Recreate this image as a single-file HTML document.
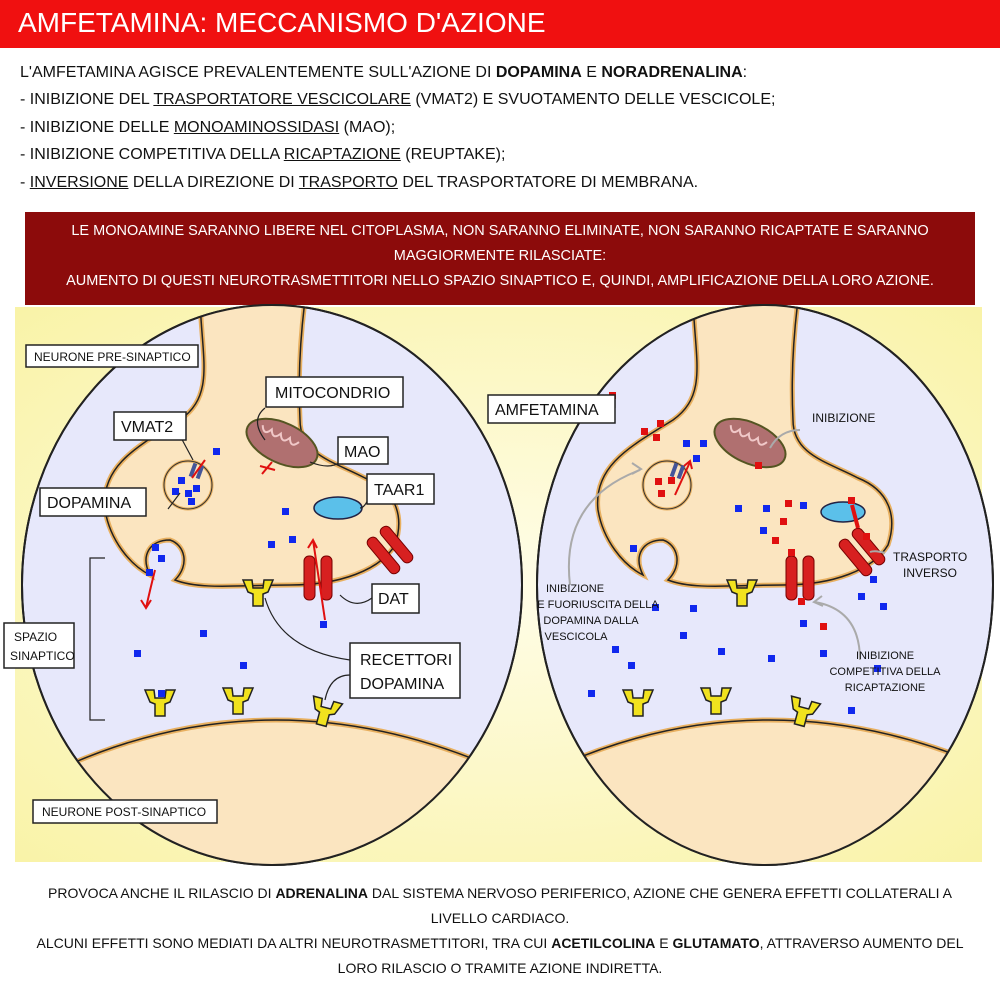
<!DOCTYPE html>
<html><head><meta charset="utf-8"><style>
body{margin:0;width:1000px;height:1000px;background:#fff;font-family:"Liberation Sans",sans-serif;position:relative;overflow:hidden}
.hdr{position:absolute;left:0;top:0;width:1000px;height:48px;background:#f01010;color:#fff;font-size:28px;line-height:46px;padding-left:18px;box-sizing:border-box}
.t{position:absolute;left:20px;font-size:16px;color:#111;white-space:nowrap}
.u{text-decoration:underline}
.box{position:absolute;left:25px;top:212px;width:950px;height:93px;background:#8c0b0b;color:#fff;text-align:center;font-size:14.5px;line-height:25px;padding-top:7px;box-sizing:border-box;white-space:nowrap}
.bt{position:absolute;left:0;width:1000px;text-align:center;font-size:14px;color:#111;line-height:25px;white-space:nowrap}
</style></head><body>
<div class="hdr">AMFETAMINA: MECCANISMO D'AZIONE</div>
<div class="t" style="top:64px">L'AMFETAMINA AGISCE PREVALENTEMENTE SULL'AZIONE DI <b>DOPAMINA</b> E <b>NORADRENALINA</b>:</div>
<div class="t" style="top:91px">- INIBIZIONE DEL <span class="u">TRASPORTATORE VESCICOLARE</span> (VMAT2) E SVUOTAMENTO DELLE VESCICOLE;</div>
<div class="t" style="top:119px">- INIBIZIONE DELLE <span class="u">MONOAMINOSSIDASI</span> (MAO);</div>
<div class="t" style="top:146px">- INIBIZIONE COMPETITIVA DELLA <span class="u">RICAPTAZIONE</span> (REUPTAKE);</div>
<div class="t" style="top:174px">- <span class="u">INVERSIONE</span> DELLA DIREZIONE DI <span class="u">TRASPORTO</span> DEL TRASPORTATORE DI MEMBRANA.</div>
<div class="box">LE MONOAMINE SARANNO LIBERE NEL CITOPLASMA, NON SARANNO ELIMINATE, NON SARANNO RICAPTATE E SARANNO<br>MAGGIORMENTE RILASCIATE:<br>AUMENTO DI QUESTI NEUROTRASMETTITORI NELLO SPAZIO SINAPTICO E, QUINDI, AMPLIFICAZIONE DELLA LORO AZIONE.</div>
<svg style="position:absolute;left:0;top:0" width="1000" height="1000" font-family="Liberation Sans, sans-serif">
<defs>
<radialGradient id="yg" cx="0.5" cy="0.5" r="0.7"><stop offset="0" stop-color="#fffde8"/><stop offset="1" stop-color="#f9f3a8"/></radialGradient>
<clipPath id="cl"><ellipse cx="272" cy="585" rx="250" ry="280"/></clipPath>
<clipPath id="cr"><ellipse cx="765" cy="585" rx="228" ry="280"/></clipPath>
<g id="pre">
<path d="M200,300 C202,360 215,395 180,420 C140,445 100,465 105,510 C110,540 130,565 150,575 C140,555 150,540 170,540 C185,545 190,565 175,580 C200,590 240,585 290,585 C340,585 380,570 395,545 C405,515 395,490 365,478 C335,462 300,455 300,420 C298,380 300,340 305,300 Z" fill="#fbe5c0" stroke="#e8b060" stroke-width="5"/>
<path d="M200,300 C202,360 215,395 180,420 C140,445 100,465 105,510 C110,540 130,565 150,575 C140,555 150,540 170,540 C185,545 190,565 175,580 C200,590 240,585 290,585 C340,585 380,570 395,545 C405,515 395,490 365,478 C335,462 300,455 300,420 C298,380 300,340 305,300" fill="none" stroke="#222" stroke-width="1.5"/>
<path d="M0,800 Q272,640 560,800 L560,900 L0,900Z" fill="#fbe5c0" stroke="#e8b060" stroke-width="5"/>
<path d="M0,800 Q272,640 560,800" fill="none" stroke="#222" stroke-width="1.5"/>
</g>
<g id="rec"><path d="M-15,0 L-6,0 L-5,8 L5,8 L6,0 L15,0 L10,12 L5,14 L5,26 L-5,26 L-5,14 L-10,12Z" fill="#f1e21e" stroke="#222" stroke-width="1.5"/></g>
<g id="dat"><rect x="-14" y="-22" width="11" height="44" rx="5" fill="#d72020" stroke="#700" stroke-width="1"/><rect x="3" y="-22" width="11" height="44" rx="5" fill="#d72020" stroke="#700" stroke-width="1"/></g>
<g id="mito"><ellipse cx="0" cy="0" rx="38" ry="20" transform="rotate(25)" fill="#b07070" stroke="#552" stroke-width="2"/><path d="M-25,-8 q5,10 10,0 q5,10 10,0 q5,10 10,0 q5,10 10,0" transform="rotate(25)" stroke="#f0c8c8" stroke-width="2" fill="none"/></g>
</defs>
<rect x="15" y="307" width="967" height="555" fill="url(#yg)"/>
<ellipse cx="272" cy="585" rx="250" ry="280" fill="#e7e8fb" stroke="#222" stroke-width="2"/>
<g clip-path="url(#cl)"><use href="#pre"/></g>
<ellipse cx="272" cy="585" rx="250" ry="280" fill="none" stroke="#222" stroke-width="2"/>
<circle cx="188" cy="485" r="24" fill="#fbe5c0" stroke="#e8b060" stroke-width="3"/><circle cx="188" cy="485" r="24" fill="none" stroke="#333" stroke-width="1"/>
<rect x="191" y="463" width="4" height="14" fill="#445599" transform="rotate(20 193 470)"/><rect x="198" y="465" width="4" height="14" fill="#445599" transform="rotate(20 200 472)"/>
<use href="#mito" x="282" y="443"/>
<ellipse cx="338" cy="508" rx="24" ry="11" fill="#5bc0ea" stroke="#224" stroke-width="1.5"/>
<use href="#dat" x="318" y="578"/><use href="#dat" x="390" y="550" transform="rotate(-40 390 550)"/>
<use href="#rec" x="258" y="580"/><use href="#rec" x="160" y="690"/><use href="#rec" x="238" y="688"/><use href="#rec" x="328" y="700" transform="rotate(15 328 700)"/>
<g fill="#1028ee"><rect x="213" y="448" width="7" height="7"/><rect x="178" y="477" width="7" height="7"/><rect x="172" y="488" width="7" height="7"/><rect x="185" y="490" width="7" height="7"/><rect x="193" y="485" width="7" height="7"/><rect x="188" y="498" width="7" height="7"/><rect x="152" y="544" width="7" height="7"/><rect x="158" y="555" width="7" height="7"/><rect x="146" y="569" width="7" height="7"/><rect x="282" y="508" width="7" height="7"/><rect x="268" y="541" width="7" height="7"/><rect x="289" y="536" width="7" height="7"/><rect x="200" y="630" width="7" height="7"/><rect x="134" y="650" width="7" height="7"/><rect x="240" y="662" width="7" height="7"/><rect x="320" y="621" width="7" height="7"/><rect x="158" y="690" width="7" height="7"/></g>
<g stroke="#e01010" stroke-width="2" fill="none"><path d="M155,570 Q150,590 146,608"/><path d="M141,600 l5,8 l5,-8"/><path d="M325,620 L313,540"/><path d="M308,548 l5,-8 l4,8"/><path d="M205,460 L192,478"/><path d="M260,466 L275,470 M262,474 L272,462"/></g>
<g stroke="#222" stroke-width="1.2" fill="none"><path d="M168,509 L180,493"/><path d="M178,432 L193,460"/><path d="M265,408 Q250,420 265,440"/><path d="M340,462 Q330,470 310,462"/><path d="M370,495 Q365,508 360,508"/><path d="M372,598 Q355,610 340,595"/><path d="M350,660 Q280,650 265,598"/><path d="M350,675 Q330,675 325,700"/><path d="M105,558 L90,558 L90,720 L105,720"/></g>
<g font-size="16" fill="#111">
<rect x="26" y="345" width="172" height="22" fill="#fff" stroke="#222" stroke-width="1.5"/><text x="34" y="361" font-size="12">NEURONE PRE-SINAPTICO</text>
<rect x="114" y="412" width="72" height="28" fill="#fff" stroke="#222" stroke-width="1.5"/><text x="121" y="432">VMAT2</text>
<rect x="40" y="488" width="106" height="28" fill="#fff" stroke="#222" stroke-width="1.5"/><text x="47" y="508">DOPAMINA</text>
<rect x="266" y="377" width="137" height="30" fill="#fff" stroke="#222" stroke-width="1.5"/><text x="275" y="398">MITOCONDRIO</text>
<rect x="338" y="437" width="50" height="27" fill="#fff" stroke="#222" stroke-width="1.5"/><text x="344" y="457">MAO</text>
<rect x="367" y="474" width="67" height="30" fill="#fff" stroke="#222" stroke-width="1.5"/><text x="374" y="495">TAAR1</text>
<rect x="372" y="584" width="47" height="29" fill="#fff" stroke="#222" stroke-width="1.5"/><text x="378" y="604">DAT</text>
<rect x="350" y="643" width="110" height="55" fill="#fff" stroke="#222" stroke-width="1.5"/><text x="360" y="665">RECETTORI</text><text x="360" y="689">DOPAMINA</text>
<rect x="4" y="623" width="70" height="45" fill="#fff" stroke="#222" stroke-width="1.5"/><text x="14" y="641" font-size="12">SPAZIO</text><text x="10" y="660" font-size="12">SINAPTICO</text>
<rect x="33" y="800" width="184" height="23" fill="#fff" stroke="#222" stroke-width="1.5"/><text x="42" y="816" font-size="12">NEURONE POST-SINAPTICO</text>
</g>
<ellipse cx="765" cy="585" rx="228" ry="280" fill="#e7e8fb" stroke="#222" stroke-width="2"/>
<g clip-path="url(#cr)"><use href="#pre" x="493"/></g>
<ellipse cx="765" cy="585" rx="228" ry="280" fill="none" stroke="#222" stroke-width="2"/>
<circle cx="667" cy="485" r="24" fill="#fbe5c0" stroke="#e8b060" stroke-width="3"/><circle cx="667" cy="485" r="24" fill="none" stroke="#333" stroke-width="1"/>
<rect x="672" y="463" width="4" height="14" fill="#445599" transform="rotate(20 674 470)"/><rect x="679" y="465" width="4" height="14" fill="#445599" transform="rotate(20 681 472)"/>
<use href="#mito" x="750" y="443"/>
<ellipse cx="843" cy="512" rx="22" ry="10" fill="#5bc0ea" stroke="#224" stroke-width="1.5"/>
<use href="#dat" x="800" y="578"/><use href="#dat" x="862" y="552" transform="rotate(-40 862 552)"/>
<use href="#rec" x="742" y="580"/><use href="#rec" x="638" y="690"/><use href="#rec" x="716" y="688"/><use href="#rec" x="806" y="700" transform="rotate(15 806 700)"/>
<g fill="#1028ee"><rect x="683" y="440" width="7" height="7"/><rect x="700" y="440" width="7" height="7"/><rect x="693" y="455" width="7" height="7"/><rect x="735" y="505" width="7" height="7"/><rect x="763" y="505" width="7" height="7"/><rect x="800" y="502" width="7" height="7"/><rect x="760" y="527" width="7" height="7"/><rect x="630" y="545" width="7" height="7"/><rect x="652" y="604" width="7" height="7"/><rect x="690" y="605" width="7" height="7"/><rect x="680" y="632" width="7" height="7"/><rect x="612" y="646" width="7" height="7"/><rect x="718" y="648" width="7" height="7"/><rect x="768" y="655" width="7" height="7"/><rect x="628" y="662" width="7" height="7"/><rect x="588" y="690" width="7" height="7"/><rect x="800" y="620" width="7" height="7"/><rect x="820" y="650" width="7" height="7"/><rect x="870" y="576" width="7" height="7"/><rect x="858" y="593" width="7" height="7"/><rect x="880" y="603" width="7" height="7"/><rect x="848" y="707" width="7" height="7"/><rect x="874" y="665" width="7" height="7"/></g>
<g fill="#e01010"><rect x="609" y="392" width="7" height="7"/><rect x="657" y="420" width="7" height="7"/><rect x="641" y="428" width="7" height="7"/><rect x="653" y="434" width="7" height="7"/><rect x="655" y="478" width="7" height="7"/><rect x="668" y="477" width="7" height="7"/><rect x="658" y="490" width="7" height="7"/><rect x="785" y="500" width="7" height="7"/><rect x="780" y="518" width="7" height="7"/><rect x="772" y="537" width="7" height="7"/><rect x="788" y="549" width="7" height="7"/><rect x="848" y="497" width="7" height="7"/><rect x="863" y="533" width="7" height="7"/><rect x="798" y="598" width="7" height="7"/><rect x="820" y="623" width="7" height="7"/><rect x="755" y="462" width="7" height="7"/></g>
<g stroke="#e01010" stroke-width="2" fill="none"><path d="M675,495 L690,462"/><path d="M684,466 l6,-5 l2,8"/><path d="M852,505 L858,528" stroke-width="4"/></g>
<g stroke="#aaa" stroke-width="2" fill="none"><path d="M570,585 Q560,500 640,470"/><path d="M632,463 l9,6 l-9,5"/><path d="M860,660 Q860,610 815,602"/><path d="M822,596 l-8,6 l9,4"/><path d="M800,430 Q780,430 770,448"/><path d="M885,553 Q875,550 870,552"/></g>
<g stroke="#222" stroke-width="1.2" fill="none"><path d="M615,408 L615,395 L609,395"/></g>
<g font-size="16" fill="#111">
<rect x="488" y="395" width="127" height="28" fill="#fff" stroke="#222" stroke-width="1.5"/><text x="495" y="415">AMFETAMINA</text>
<text x="812" y="422" font-size="12">INIBIZIONE</text>
<text x="893" y="561" font-size="12">TRASPORTO</text><text x="903" y="577" font-size="12">INVERSO</text>
<g font-size="11" text-anchor="middle"><text x="575" y="592">INIBIZIONE</text><text x="598" y="608">E FUORIUSCITA DELLA</text><text x="591" y="624">DOPAMINA DALLA</text><text x="576" y="640">VESCICOLA</text>
<text x="885" y="659">INIBIZIONE</text><text x="885" y="675">COMPETITIVA DELLA</text><text x="885" y="691">RICAPTAZIONE</text></g>
</g>
</svg>
<div class="bt" style="top:881px">PROVOCA ANCHE IL RILASCIO DI <b>ADRENALINA</b> DAL SISTEMA NERVOSO PERIFERICO, AZIONE CHE GENERA EFFETTI COLLATERALI A<br>LIVELLO CARDIACO.<br>ALCUNI EFFETTI SONO MEDIATI DA ALTRI NEUROTRASMETTITORI, TRA CUI <b>ACETILCOLINA</b> E <b>GLUTAMATO</b>, ATTRAVERSO AUMENTO DEL<br>LORO RILASCIO O TRAMITE AZIONE INDIRETTA.</div>
</body></html>
